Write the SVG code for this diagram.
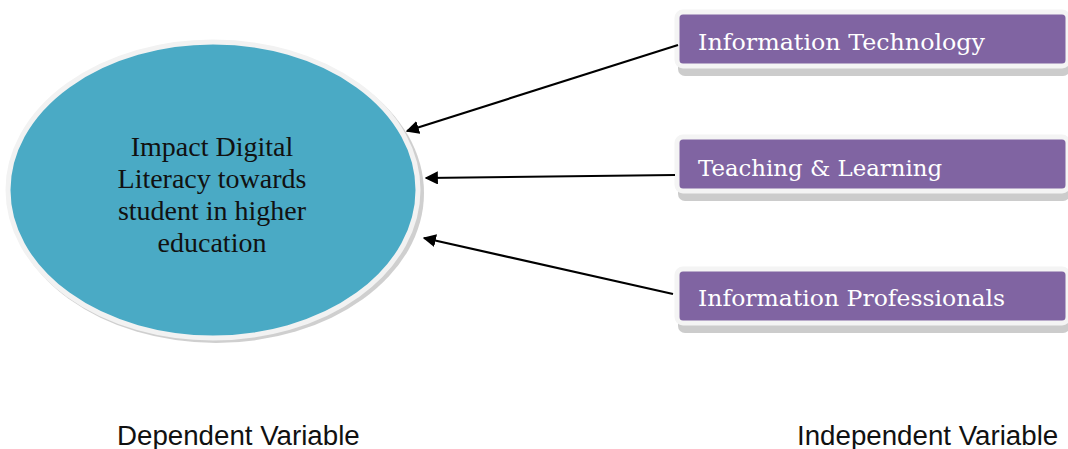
<svg xmlns="http://www.w3.org/2000/svg" width="1068" height="449" viewBox="0 0 1068 449">
<style>
.box{fill:#8064a2;stroke:#f4f4f4;stroke-width:5}
.boxsh{fill:#9a9a9a;opacity:0.5}
.lbl{font-family:"DejaVu Serif","Liberation Serif",serif;font-size:22px;fill:#ffffff}
.ctr{font-family:"Liberation Serif",serif;font-size:28px;fill:#111111;text-anchor:middle}
.cap{font-family:"Liberation Sans",Arial,sans-serif;font-size:27.7px;fill:#111111}
.conn{stroke:#000000;stroke-width:2.2;fill:none;marker-end:url(#ah)}
</style>
<defs>
<marker id="ah" viewBox="0 0 10 10" refX="9" refY="5" markerWidth="6" markerHeight="6" orient="auto" markerUnits="strokeWidth">
<path d="M0,0 L10,5 L0,10 z" fill="#000000"/>
</marker>
</defs>
<rect width="1068" height="449" fill="#ffffff"/>
<g id="node-dependent">
<ellipse cx="216" cy="193" rx="208" ry="150" fill="#a8a8a8" opacity="0.55"/>
<ellipse cx="213" cy="190" rx="205" ry="148" fill="#4aaac5" stroke="#f2f2f2" stroke-width="5"/>
<text class="ctr" x="212" y="156">Impact Digital</text>
<text class="ctr" x="212" y="188">Literacy towards</text>
<text class="ctr" x="212" y="220">student in higher</text>
<text class="ctr" x="212" y="252">education</text>
</g>
<g id="node-it">
<rect class="boxsh" x="678" y="18" width="392" height="58" rx="7"/>
<rect class="box" x="677" y="12" width="391" height="54" rx="6"/>
<text class="lbl" x="698" y="50" textLength="287" lengthAdjust="spacingAndGlyphs">Information Technology</text>
</g>
<g id="node-tl">
<rect class="boxsh" x="678" y="143" width="392" height="58" rx="7"/>
<rect class="box" x="677" y="137" width="391" height="54" rx="6"/>
<text class="lbl" x="698" y="176" textLength="244" lengthAdjust="spacingAndGlyphs">Teaching &amp; Learning</text>
</g>
<g id="node-ip">
<rect class="boxsh" x="678" y="275" width="392" height="58" rx="7"/>
<rect class="box" x="677" y="269" width="391" height="54" rx="6"/>
<text class="lbl" x="698" y="306" textLength="307" lengthAdjust="spacingAndGlyphs">Information Professionals</text>
</g>
<g id="connectors">
<line class="conn" x1="678" y1="45" x2="407" y2="131"/>
<line class="conn" x1="675" y1="175" x2="426" y2="178"/>
<line class="conn" x1="673" y1="294" x2="424" y2="238"/>
</g>
<g id="captions">
<text class="cap" x="117" y="445">Dependent Variable</text>
<text class="cap" x="797" y="445">Independent Variable</text>
</g>
</svg>
